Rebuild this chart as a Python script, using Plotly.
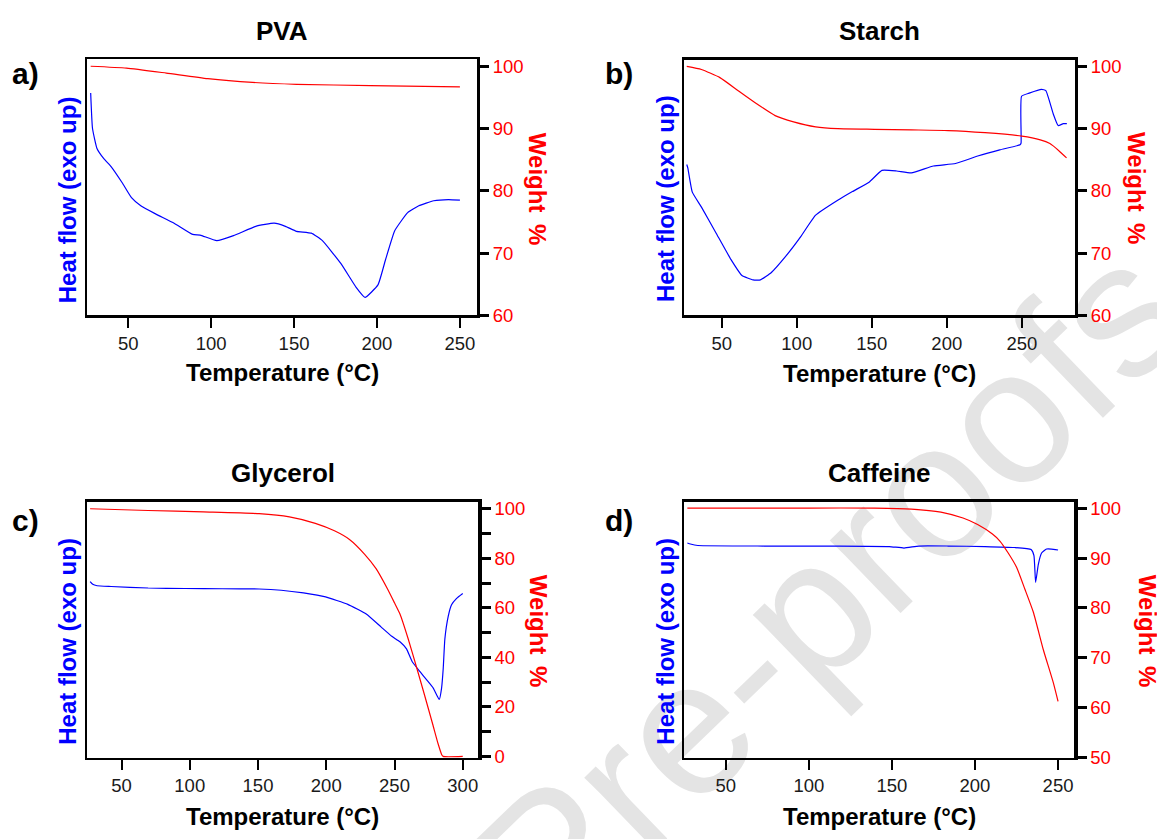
import plotly.graph_objects as go

W, H = 1157, 839

# ---------------- data ----------------
# a) PVA
pva_dsc_T = [27.4, 28.5, 31.2, 35.2, 39.7, 46.4, 52.0, 57.6, 66.5, 77.7, 88.9, 93.4, 103.4, 113.5,
             126.9, 138.0, 144.8, 151.5, 160.4, 167.1, 178.3, 187.2, 192.8, 200.6, 205.1, 210.7,
             218.5, 225.2, 234.2, 243.1, 250.0]
pva_dsc_hf = [95.7, 90.0, 86.8, 85.2, 83.9, 81.3, 78.9, 77.6, 76.3, 74.8, 73.0, 72.9, 72.0, 72.8,
              74.3, 74.8, 74.3, 73.5, 73.2, 72.0, 68.3, 64.6, 62.9, 64.9, 68.9, 73.6,
              76.5, 77.6, 78.4, 78.6, 78.5]
pva_tga_T = [27.4, 49.0, 73.0, 98.0, 125.0, 151.5, 196.0, 250.0]
pva_tga_w = [100.0, 99.7, 98.9, 98.0, 97.4, 97.1, 96.9, 96.7]

# b) Starch
starch_dsc_T = [26.7, 27.4, 30.4, 36.5, 46.3, 56.1, 63.5, 70.9, 75.8, 83.1, 93.0, 102.8, 112.6,
                127.3, 137.1, 148.2, 156.8, 166.6, 176.4, 191.1, 205.8, 220.6, 235.3, 248.8,
                249.5, 249.8, 254.9, 263.1, 266.0, 270.9, 274.2, 277.6, 280.0]
starch_dsc_hf = [84.25, 83.7, 79.8, 77.4, 73.2, 69.0, 66.4, 65.7, 65.7, 66.9, 69.6, 72.7, 76.1,
                 78.5, 79.9, 81.4, 83.3, 83.2, 82.9, 84.0, 84.4, 85.6, 86.6, 87.4,
                 87.7, 95.2, 95.7, 96.3, 96.1, 92.4, 90.5, 90.8, 90.8]
starch_tga_T = [26.7, 36.5, 48.8, 61.0, 73.3, 85.6, 97.9, 112.6, 127.3, 151.8, 176.4, 200.9,
                225.5, 250.0, 262.3, 268.7, 274.5, 279.8]
starch_tga_w = [100.0, 99.5, 98.2, 96.1, 94.0, 92.1, 91.1, 90.3, 90.0, 89.9, 89.8, 89.7,
                89.35, 88.8, 88.2, 87.6, 86.5, 85.3]

# c) Glycerol
glyc_dsc_T = [27.0, 28.9, 32.1, 42.4, 69.5, 96.6, 123.7, 150.8, 167.0, 183.3, 199.5, 215.8,
              229.3, 240.1, 248.0, 254.0, 258.8, 263.0, 268.7, 273.6, 278.4, 282.8, 284.5,
              285.7, 286.9, 289.4, 291.8, 295.5, 300.0]
glyc_dsc_hf = [70.6, 69.5, 68.9, 68.6, 68.0, 67.8, 67.7, 67.6, 67.1, 66.0, 64.4, 61.4,
               57.5, 52.3, 48.5, 46.3, 43.4, 38.2, 34.2, 30.9, 27.6, 23.0, 27.6,
               35.5, 47.4, 56.6, 61.2, 63.8, 65.8]
glyc_tga_T = [27.0, 69.5, 110.0, 150.8, 173.0, 192.0, 206.0, 217.0, 228.0, 236.5, 245.0, 250.0,
              254.0, 260.0, 266.0, 272.0, 278.0, 282.0, 284.6, 285.7, 300.0]
glyc_tga_w = [100.0, 99.3, 98.7, 98.0, 96.7, 94.1, 91.1, 87.6, 81.7, 75.8, 67.5, 62.0,
              57.5, 47.5, 36.3, 24.8, 13.0, 5.0, 0.7, 0.0, 0.0]

# d) Caffeine
caff_dsc_T = [26.9, 28.7, 33.2, 73.1, 117.4, 148.4, 157.3, 166.2, 183.9, 206.1, 223.8, 233.8,
              235.5, 236.5, 238.1, 240.1, 243.1, 246.0, 250.0]
caff_dsc_hf = [93.0, 92.8, 92.5, 92.4, 92.4, 92.3, 92.0, 92.4, 92.4, 92.3, 92.1, 91.7,
               90.5, 85.1, 88.7, 91.0, 91.8, 91.8, 91.6]
caff_tga_T = [26.9, 100.0, 139.6, 161.7, 179.5, 192.8, 201.6, 210.5, 215.0, 220.0, 225.1, 230.0,
              235.1, 241.1, 247.1, 250.0]
caff_tga_w = [100.0, 100.0, 100.0, 99.8, 99.2, 98.0, 96.7, 94.8, 93.4, 91.0, 88.1, 83.8,
              79.2, 71.7, 65.1, 61.3]

panel_tags = ["a)", "b)", "c)", "d)"]
panel_titles = ["PVA", "Starch", "Glycerol", "Caffeine"]
x_ticks_ab_d = [50, 100, 150, 200, 250]
x_ticks_c = [50, 100, 150, 200, 250, 300]
w_ticks_ab = [60, 70, 80, 90, 100]
w_ticks_c = [0, 10, 20, 30, 40, 50, 60, 70, 80, 90, 100]
w_labels_c = ["0", "", "20", "", "40", "", "60", "", "80", "", "100"]
w_ticks_d = [50, 60, 70, 80, 90, 100]
x_title = "Temperature (°C)"
hf_title = "Heat flow (exo up)"
w_title = "Weight\u00a0\u2009%"
watermark = "Pre-proofs"

# ---------------- layout config (pixel geometry & styles) ----------------
FONT = "Liberation Sans, Arial, Helvetica, sans-serif"
BLUE, RED = "#0000ff", "#ff0000"

panels = [
    dict(dT=pva_dsc_T, dH=pva_dsc_hf, tT=pva_tga_T, tW=pva_tga_w,
         box=(86.7, 476.5, 56.0, 316.7), xr=[25, 260], yr=[60, 101.15],
         xt=x_ticks_ab_d, wt=w_ticks_ab, wl=[str(v) for v in w_ticks_ab],
         title=(281.6, 27), tag=(25.5, 71), xtitle=(282.5, 375), hft=(67.6, 199), wtt=(537.5, 187.5)),
    dict(dT=starch_dsc_T, dH=starch_dsc_hf, tT=starch_tga_T, tW=starch_tga_w,
         box=(684.2, 1074.5, 56.5, 316.7), xr=[25, 285.1], yr=[60, 101.1],
         xt=x_ticks_ab_d, wt=w_ticks_ab, wl=[str(v) for v in w_ticks_ab],
         title=(879.5, 27), tag=(619, 71), xtitle=(879.5, 376), hft=(666, 198.3), wtt=(1136.3, 187.5)),
    dict(dT=glyc_dsc_T, dH=glyc_dsc_hf, tT=glyc_tga_T, tW=glyc_tga_w,
         box=(87.4, 478.3, 506.0, 766.7), xr=[25, 311.4], yr=[-0.6, 102.9],
         xt=x_ticks_c, wt=w_ticks_c, wl=w_labels_c,
         title=(283, 477), tag=(25, 525.5), xtitle=(282.5, 826), hft=(67.6, 648), wtt=(538, 637.5)),
    dict(dT=caff_dsc_T, dH=caff_dsc_hf, tT=caff_tga_T, tW=caff_tga_w,
         box=(684.2, 1074.0, 506.0, 766.7), xr=[25, 259.6], yr=[50, 101.3],
         xt=x_ticks_ab_d, wt=w_ticks_d, wl=[str(v) for v in w_ticks_d],
         title=(879.5, 477), tag=(619, 525.5), xtitle=(879.5, 826), hft=(666, 648.5), wtt=(1147, 637.5)),
]


def fx(x):
    return x / W


def fy(y):
    return 1 - y / H


fig = go.Figure()
layout = dict(width=W, height=H, autosize=False, margin=dict(l=0, r=0, t=0, b=0, pad=0),
              paper_bgcolor="white", plot_bgcolor="rgba(0,0,0,0)", showlegend=False,
              font=dict(family=FONT, color="black"))
annotations = []

for i, p in enumerate(panels):
    xk = "x" if i == 0 else f"x{i + 1}"
    ylk = "y" if i == 0 else f"y{2 * i + 1}"
    yrk = f"y{2 * i + 2}"
    xkey = "xaxis" if i == 0 else f"xaxis{i + 1}"
    ylkey = "yaxis" if i == 0 else f"yaxis{2 * i + 1}"
    yrkey = f"yaxis{2 * i + 2}"

    fig.add_trace(go.Scatter(x=p["dT"], y=p["dH"], xaxis=xk, yaxis=ylk, mode="lines",
                             line=dict(color=BLUE, width=1.2, shape="spline", smoothing=0.4),
                             hoverinfo="skip"))
    fig.add_trace(go.Scatter(x=p["tT"], y=p["tW"], xaxis=xk, yaxis=yrk, mode="lines",
                             line=dict(color=RED, width=1.2, shape="spline", smoothing=0.5),
                             hoverinfo="skip"))

    L, R, T, B = p["box"]
    layout[xkey] = dict(domain=[fx(L), fx(R)], anchor=ylk, range=p["xr"], tickvals=p["xt"],
                        showline=True, linecolor="black", linewidth=2.2, mirror=True,
                        ticks="outside", ticklen=10, tickwidth=2, tickcolor="black",
                        tickfont=dict(size=18.5, color="#1a1a1a", family=FONT),
                        showgrid=False, zeroline=False, fixedrange=True)
    layout[ylkey] = dict(domain=[fy(B), fy(T)], anchor=xk, range=p["yr"],
                         showline=True, linecolor="black", linewidth=2.2, mirror=False,
                         ticks="", showticklabels=False, showgrid=False, zeroline=False,
                         fixedrange=True)
    layout[yrkey] = dict(overlaying=ylk, side="right", anchor=xk, range=p["yr"],
                         tickvals=p["wt"], ticktext=p["wl"],
                         showline=True, linecolor="black", linewidth=3.5,
                         ticks="outside", ticklen=9, tickwidth=3, tickcolor="black",
                         tickfont=dict(size=18.5, color=RED, family=FONT),
                         showgrid=False, zeroline=False, fixedrange=True)

    annotations.append(dict(text=panel_titles[i], x=fx(p["title"][0]), y=fy(p["title"][1]),
                            xref="paper", yref="paper", showarrow=False, xanchor="center", yanchor="middle",
                            font=dict(size=26, color="black", family=FONT, weight="bold")))
    annotations.append(dict(text=panel_tags[i], x=fx(p["tag"][0]), y=fy(p["tag"][1]),
                            xref="paper", yref="paper", showarrow=False, xanchor="center", yanchor="middle",
                            font=dict(size=30, color="black", family=FONT, weight="bold")))
    annotations.append(dict(text=x_title, x=fx(p["xtitle"][0]), y=fy(p["xtitle"][1]),
                            xref="paper", yref="paper", showarrow=False, xanchor="center", yanchor="middle",
                            font=dict(size=24, color="black", family=FONT, weight="bold")))
    annotations.append(dict(text=hf_title, x=fx(p["hft"][0]), y=fy(p["hft"][1]), textangle=-90,
                            xref="paper", yref="paper", showarrow=False, xanchor="center", yanchor="middle",
                            font=dict(size=24, color=BLUE, family=FONT, weight="bold")))
    annotations.append(dict(text=w_title, x=fx(p["wtt"][0]), y=fy(p["wtt"][1]), textangle=90,
                            xref="paper", yref="paper", showarrow=False, xanchor="center", yanchor="middle",
                            font=dict(size=24, color=RED, family=FONT, weight="bold")))

layout["annotations"] = annotations

# watermark (drawn beneath the data)
wm_cx, wm_cy = 817, 582
layout["shapes"] = [dict(type="rect", xref="paper", yref="paper",
                         x0=fx(wm_cx - 5), x1=fx(wm_cx + 5), y0=fy(wm_cy + 5), y1=fy(wm_cy - 5),
                         layer="below", line=dict(width=0), fillcolor="rgba(0,0,0,0)",
                         label=dict(text=watermark, textangle=-44, textposition="middle center",
                                    font=dict(size=192, color="#e4e4e4", family=FONT)))]

fig.update_layout(**layout)
fig.write_html("out.html", config={"displayModeBar": False, "staticPlot": True},
               post_script="document.body.style.margin='0';document.body.style.overflow='hidden';")
